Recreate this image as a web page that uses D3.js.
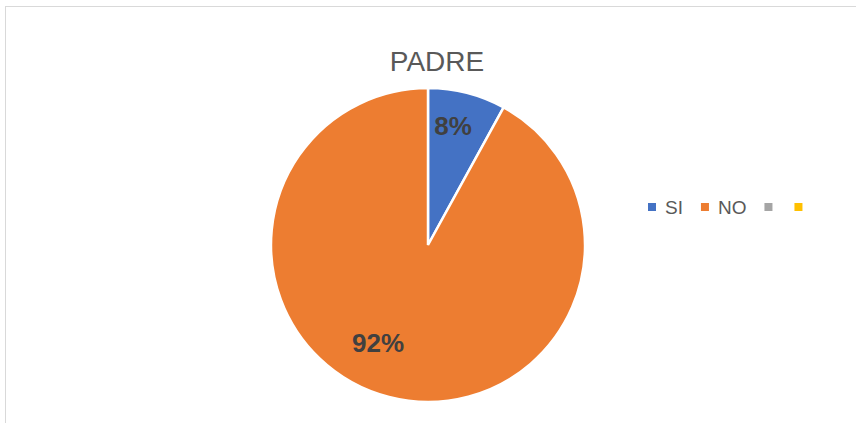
<!DOCTYPE html>
<html>
<head>
<meta charset="utf-8">
<script src="https://cdn.jsdelivr.net/npm/d3@7"></script>
<style>
  body { margin: 0; background: #fff; }
  svg { display: block; font-family: 'Liberation Sans', Arial, sans-serif; }
</style>
</head>
<body>
<div id="chart"></div>
<script>
// --- Data ---
const categories = ['SI', 'NO', '', ''];
const values = [8, 92, 0, 0];
const colors = ['#4472C4', '#ED7D31', '#A5A5A5', '#FFC000'];
const title = 'PADRE';

// label placement (Excel "best fit"): angle shift in degrees, radius fraction
const labelShift = [-2.6, 12.6];
const labelRadius = [0.78, 0.70];

const W = 856, H = 423;

const svg = d3.select('#chart')
    .append('svg')
    .attr('width', W)
    .attr('height', H);

// chart area border (runs off the right / bottom edge)
svg.append('rect')
    .attr('x', 5.5).attr('y', 6.5)
    .attr('width', W + 10).attr('height', H + 10)
    .attr('fill', '#fff')
    .attr('stroke', '#d9d9d9')
    .attr('stroke-width', 1);

// Title
svg.append('text')
    .attr('x', 437).attr('y', 71)
    .attr('text-anchor', 'middle')
    .style('font-size', '28px')
    .style('fill', '#595959')
    .text(title);

// Pie
const cx = 428, cy = 245, radius = 157;
const data = categories.map((c, i) => ({ cat: c, value: values[i], color: colors[i], idx: i }));

const pie = d3.pie().sort(null).value(d => d.value);
const arc = d3.arc().innerRadius(0).outerRadius(radius);

const g = svg.append('g').attr('transform', `translate(${cx}, ${cy})`);
const arcs = pie(data).filter(d => d.data.value > 0);

g.selectAll('path')
    .data(arcs)
    .enter()
    .append('path')
    .attr('d', arc)
    .attr('fill', d => d.data.color)
    .attr('stroke', '#fff')
    .attr('stroke-width', 2.5);

function labelPos(d) {
    const i = d.data.idx;
    const a = (d.startAngle + d.endAngle) / 2 + labelShift[i] * Math.PI / 180;
    const r = radius * labelRadius[i];
    return [Math.sin(a) * r, -Math.cos(a) * r];
}

const total = d3.sum(values);
g.selectAll('.lbl')
    .data(arcs)
    .enter()
    .append('text')
    .attr('class', 'lbl')
    .attr('transform', d => `translate(${labelPos(d)})`)
    .attr('text-anchor', 'middle')
    .attr('dy', '0.36em')
    .style('font-size', '26px')
    .style('font-weight', 'bold')
    .style('fill', '#404040')
    .text(d => Math.round(d.data.value / total * 100) + '%');

// Legend
const legend = svg.append('g').attr('transform', 'translate(648, 207)');
let lx = 0;
data.forEach(d => {
    const item = legend.append('g').attr('transform', `translate(${lx}, 0)`);
    item.append('rect')
        .attr('x', 0).attr('y', -4)
        .attr('width', 8).attr('height', 8)
        .attr('fill', d.color);
    const t = item.append('text')
        .attr('x', 17).attr('y', 0)
        .attr('dy', '0.35em')
        .style('font-size', '19px')
        .style('fill', '#595959')
        .text(d.cat);
    const w = d.cat ? t.node().getComputedTextLength() : 0;
    lx += 17 + w + (w ? 18 : 13);
});
</script>
</body>
</html>
